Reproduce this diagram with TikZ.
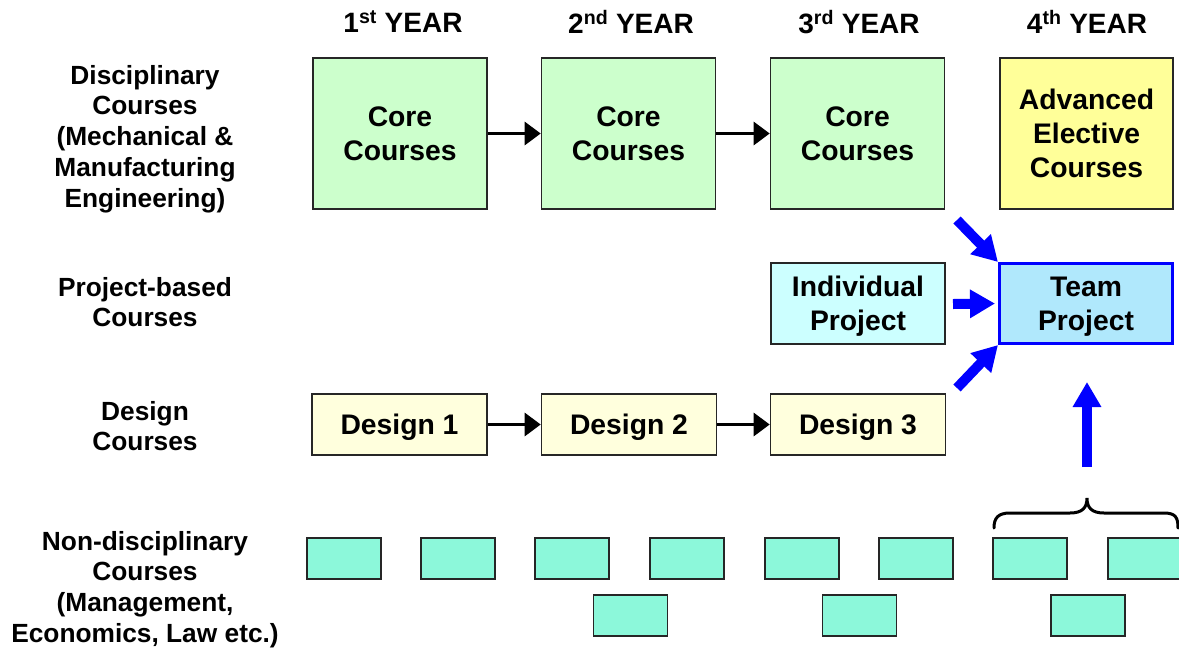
\documentclass[tikz,border=0pt]{standalone}
\usepackage{fontspec}
\setmainfont{Liberation Sans}
\usetikzlibrary{arrows.meta}
\definecolor{coreg}{HTML}{CCFFCC}
\definecolor{advy}{HTML}{FFFF99}
\definecolor{indc}{HTML}{CCFFFF}
\definecolor{teamb}{HTML}{B0E8FC}
\definecolor{desy}{HTML}{FFFFDD}
\definecolor{ndc}{HTML}{8CF8DA}
\newcommand\boxfont{\fontsize{28.3}{34}\selectfont\bfseries}
\newcommand\hdrfont{\fontsize{28}{34}\selectfont\bfseries}
\newcommand\lblfont{\fontsize{26.3}{30.8}\selectfont\bfseries}
\begin{document}
\begin{tikzpicture}[x=1pt,y=-1pt,
  box/.style={draw=black!85, line width=1.6pt, align=center, inner sep=0pt, font=\boxfont},
  corebox/.style={box, fill=coreg, minimum width=174pt, minimum height=151pt},
  advbox/.style={box, fill=advy, minimum width=173pt, minimum height=151pt, text depth=-4pt},
  indbox/.style={box, fill=indc, minimum width=174pt, minimum height=81pt, text depth=0pt},
  teambox/.style={box, draw=blue, line width=3pt, fill=teamb, minimum width=173pt, minimum height=80pt, text depth=0pt},
  desbox/.style={box, fill=desy, minimum width=175pt, minimum height=61pt, text height=20pt, text depth=0pt},
  ndbox/.style={draw=black!85, line width=1.6pt, fill=ndc, minimum width=74pt, minimum height=41pt, inner sep=0pt},
  hdr/.style={font=\hdrfont, inner sep=0pt},
  lbl/.style={font=\lblfont, align=center, inner sep=0pt},
  blk/.style={line width=3pt, -{Triangle[length=16pt,width=23pt]}},
  fat/.style={draw=blue, line width=10pt, -{Triangle[length=25pt,width=27pt]}},
  bracestyle/.style={line width=3pt, line cap=round}
]
\useasboundingbox (0,0) rectangle (1179,649);

% headers
\node[hdr] (h1) at (403,22) {1\textsuperscript{st} YEAR};
\node[hdr] (h2) at (631,22) {2\textsuperscript{nd} YEAR};
\node[hdr] (h3) at (859,22) {3\textsuperscript{rd} YEAR};
\node[hdr] (h4) at (1087,22) {4\textsuperscript{th} YEAR};

% left labels
\node[lbl] (l1) at (145,139) {Disciplinary\\Courses\\(Mechanical \&\\Manufacturing\\Engineering)};
\node[lbl] (l2) at (145,302) {Project-based\\Courses};
\node[lbl] (l3) at (145,426) {Design\\Courses};
\node[lbl] (l4) at (145,589.5) {Non-disciplinary\\Courses\\(Management,\\Economics, Law etc.)};

% disciplinary
\node[corebox] (c1) at (400,133.5) {Core\\Courses};
\node[corebox] (c2) at (628.5,133.5) {Core\\Courses};
\node[corebox] (c3) at (857.5,133.5) {Core\\Courses};
\node[advbox] (adv) at (1086.5,133.5) {Advanced\\Elective\\Courses};
\draw[blk] (c1.east) -- (c2.west);
\draw[blk] (c2.east) -- (c3.west);

% project
\node[indbox] (ind) at (858,303.5) {Individual\\Project};
\node[teambox] (team) at (1086,303.5) {Team\\Project};

% design
\node[desbox] (d1) at (399.5,424.5) {Design 1};
\node[desbox] (d2) at (629,424.5) {Design 2};
\node[desbox] (d3) at (858,424.5) {Design 3};
\draw[blk] (d1.east) -- (d2.west);
\draw[blk] (d2.east) -- (d3.west);

% blue arrows
\coordinate (tA) at (957,220);
\coordinate (tB) at (953,304);
\coordinate (tC) at (957,388);
\coordinate (tD) at (1087,467);
\draw[fat] (tA) -- (team.north west);
\draw[fat, shorten >=3pt] (tB) -- (team.west);
\draw[fat] (tC) -- (team.south west);
\draw[fat, shorten >=37pt] (tD) -- (tD |- team.south);

% non-disciplinary
\foreach \i/\x in {1/344,2/458,3/572,4/687,5/802,6/916,7/1030,8/1145}
  \node[ndbox] (n\i) at (\x,558.5) {};
\foreach \i/\x in {9/630.5,10/859.5,11/1088}
  \node[ndbox] (n\i) at (\x,615.5) {};

% brace
\draw[bracestyle] (994,528) .. controls (994,518) and (998,513) .. (1010,513)
  -- (1070,513) .. controls (1082,513) and (1087,508) .. (1087,498)
  .. controls (1087,508) and (1092,513) .. (1104,513)
  -- (1164,513) .. controls (1176,513) and (1178,518) .. (1178,528);
\end{tikzpicture}
\end{document}
